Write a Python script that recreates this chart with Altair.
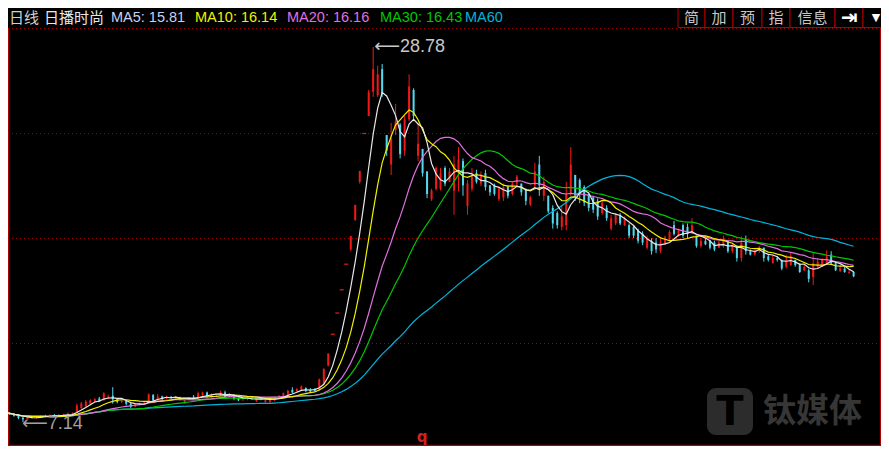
import altair as alt
import pandas as pd

# ---------------- data ----------------
opens = [7.72, 7.68, 7.60, 7.50, 7.38, 7.30, 7.42, 7.40, 7.45, 7.50,
         7.46, 7.55, 7.52, 7.50, 7.58, 7.62, 7.70, 7.95, 8.05, 8.20,
         8.30, 8.50, 8.40, 8.52, 8.66, 8.46, 8.30, 8.36, 8.20, 8.04,
         8.16, 8.20, 8.28, 8.70, 8.40, 8.62, 8.50, 8.60, 8.55, 8.55,
         8.25, 8.45, 8.60, 8.50, 8.70, 8.85, 8.60, 8.70, 8.70, 8.85,
         8.60, 8.70, 8.50, 8.44, 8.45, 8.55, 8.35, 8.50, 8.30, 8.30,
         8.40, 8.50, 8.60, 8.75, 9.00, 8.90, 9.00, 9.10, 9.00, 9.05,
         9.00, 9.35, 10.40, 12.21, 13.43, 14.77, 16.25, 17.10, 18.80, 21.00,
         23.79, 24.80, 26.20, 26.00, 27.50, 23.70, 22.00, 24.00, 24.30, 22.80,
         24.60, 26.30, 22.50, 22.90, 21.60, 20.00, 20.60, 20.60, 21.80, 21.00,
         20.50, 21.50, 22.20, 19.60, 20.60, 21.50, 20.90, 21.50, 20.80, 20.80,
         20.00, 20.10, 20.70, 20.30, 20.90, 20.90, 20.60, 19.70, 20.80, 22.00,
         20.20, 20.20, 19.50, 19.20, 18.40, 18.50, 20.30, 21.40, 21.10, 20.70,
         20.30, 20.10, 19.90, 19.20, 19.50, 18.30, 18.60, 19.10, 18.50, 18.50,
         18.40, 18.20, 18.00, 17.20, 17.60, 17.50, 17.00, 17.40, 17.70, 18.50,
         17.90, 18.50, 18.40, 18.10, 17.90, 17.30, 17.60, 17.60, 17.50, 17.20,
         17.30, 17.60, 17.00, 17.30, 16.60, 17.70, 17.00, 16.80, 17.00, 17.20,
         16.70, 16.30, 16.60, 16.50, 16.10, 16.20, 16.50, 16.20, 15.90, 15.90,
         15.50, 16.10, 16.20, 16.30, 16.80, 16.30, 15.85, 16.00, 15.75, 15.80]
highs = [7.80, 7.72, 7.66, 7.58, 7.45, 7.46, 7.50, 7.48, 7.55, 7.56,
         7.58, 7.60, 7.58, 7.62, 7.70, 7.70, 8.20, 8.30, 8.42, 8.46,
         8.52, 8.60, 8.86, 8.72, 9.15, 8.52, 8.42, 8.40, 8.26, 8.20,
         8.26, 8.30, 8.80, 8.76, 8.76, 8.66, 8.66, 8.65, 8.65, 8.60,
         8.45, 8.55, 8.70, 8.90, 8.90, 8.90, 8.80, 8.80, 8.95, 8.95,
         8.80, 8.75, 8.55, 8.50, 8.60, 8.60, 8.50, 8.55, 8.45, 8.50,
         8.60, 8.70, 8.85, 9.00, 9.15, 9.10, 9.25, 9.15, 9.10, 9.10,
         9.65, 10.25, 11.10, 12.21, 13.43, 14.77, 16.25, 17.88, 19.67, 21.63,
         23.79, 26.30, 28.78, 27.70, 27.80, 23.70, 24.40, 25.50, 24.40, 24.80,
         27.20, 26.40, 24.40, 22.90, 21.60, 20.60, 21.90, 21.80, 21.90, 21.80,
         22.50, 23.00, 22.35, 21.10, 21.80, 21.70, 21.60, 21.70, 20.80, 20.90,
         20.75, 20.90, 20.80, 21.00, 21.40, 20.90, 20.60, 20.20, 22.10, 22.50,
         21.30, 20.20, 19.65, 19.30, 19.65, 21.00, 23.00, 21.40, 21.20, 20.80,
         20.35, 20.20, 20.05, 19.90, 19.65, 19.10, 19.20, 19.20, 19.00, 18.60,
         18.50, 18.30, 18.15, 17.90, 17.75, 17.75, 17.75, 17.90, 18.20, 18.75,
         18.30, 18.60, 18.60, 18.90, 17.90, 17.75, 17.75, 17.65, 17.60, 17.60,
         17.90, 17.65, 17.40, 17.35, 17.85, 17.90, 17.10, 17.10, 17.30, 17.20,
         16.80, 16.80, 16.70, 16.50, 16.80, 16.90, 16.50, 16.30, 16.20, 16.00,
         16.90, 16.60, 16.60, 17.05, 17.00, 16.40, 16.20, 16.10, 15.95, 15.85]
lows = [7.62, 7.55, 7.45, 7.30, 7.14, 7.25, 7.36, 7.33, 7.40, 7.42,
        7.44, 7.48, 7.46, 7.48, 7.55, 7.56, 7.68, 7.90, 8.00, 8.15,
        8.26, 8.30, 8.38, 8.46, 8.20, 8.22, 8.24, 8.10, 7.96, 8.00,
        8.10, 8.14, 8.25, 8.30, 8.35, 8.40, 8.46, 8.50, 8.50, 8.40,
        8.20, 8.40, 8.45, 8.50, 8.60, 8.55, 8.55, 8.65, 8.65, 8.55,
        8.55, 8.40, 8.35, 8.35, 8.40, 8.45, 8.30, 8.40, 8.25, 8.25,
        8.35, 8.45, 8.55, 8.70, 8.80, 8.85, 8.95, 8.85, 8.85, 8.90,
        8.95, 9.30, 10.35, 12.21, 13.43, 14.77, 16.25, 17.00, 18.75, 20.90,
        23.79, 24.80, 25.90, 25.90, 25.90, 22.50, 21.40, 23.70, 22.35, 22.50,
        24.50, 24.50, 22.20, 21.30, 20.05, 19.90, 20.50, 20.50, 20.75, 21.00,
        19.10, 20.45, 20.20, 19.10, 20.45, 20.90, 20.75, 20.50, 20.20, 20.20,
        19.90, 19.90, 20.05, 20.20, 20.75, 20.20, 19.65, 19.60, 20.60, 20.20,
        19.90, 19.20, 18.30, 18.30, 18.20, 18.20, 20.20, 19.90, 19.77, 19.60,
        19.30, 19.20, 18.80, 19.10, 18.75, 18.20, 18.50, 18.50, 18.45, 17.75,
        17.75, 17.45, 17.35, 17.10, 16.80, 16.90, 16.90, 17.35, 17.60, 17.90,
        17.85, 17.75, 17.75, 18.05, 17.20, 17.20, 17.35, 17.10, 17.00, 17.20,
        17.20, 16.90, 16.90, 16.40, 16.40, 16.80, 16.75, 16.75, 16.90, 16.40,
        16.40, 16.30, 16.40, 15.90, 16.00, 16.15, 16.10, 15.75, 15.85, 15.20,
        15.05, 16.00, 16.10, 16.20, 16.20, 15.85, 15.80, 15.75, 15.70, 15.50]
closes = [7.68, 7.60, 7.50, 7.38, 7.30, 7.42, 7.40, 7.45, 7.50, 7.46,
          7.55, 7.52, 7.50, 7.58, 7.62, 7.65, 8.10, 8.22, 8.32, 8.40,
          8.46, 8.36, 8.80, 8.62, 8.45, 8.30, 8.36, 8.20, 8.02, 8.16,
          8.20, 8.26, 8.74, 8.40, 8.62, 8.50, 8.60, 8.55, 8.60, 8.45,
          8.40, 8.50, 8.50, 8.80, 8.85, 8.65, 8.75, 8.72, 8.85, 8.60,
          8.75, 8.50, 8.40, 8.45, 8.55, 8.50, 8.45, 8.45, 8.40, 8.45,
          8.55, 8.65, 8.80, 8.95, 8.85, 9.05, 9.20, 8.95, 8.90, 8.95,
          9.60, 10.20, 11.10, 12.21, 13.43, 14.77, 16.25, 17.88, 19.67, 21.63,
          23.79, 26.17, 27.50, 27.20, 26.10, 22.80, 23.50, 24.50, 22.60, 24.60,
          26.50, 24.80, 23.20, 21.50, 20.30, 20.50, 21.80, 21.50, 20.90, 21.60,
          22.00, 22.30, 20.80, 20.90, 21.30, 21.00, 21.40, 20.70, 20.40, 20.30,
          20.60, 20.70, 20.20, 20.90, 21.30, 20.40, 19.90, 20.10, 21.60, 20.80,
          21.00, 19.30, 18.60, 18.50, 19.00, 20.30, 22.00, 20.20, 20.30, 19.80,
          19.50, 19.40, 19.00, 19.80, 18.90, 18.90, 19.10, 18.60, 18.90, 17.90,
          17.90, 17.60, 17.50, 17.70, 17.00, 17.10, 17.50, 17.80, 18.10, 18.00,
          18.20, 17.90, 18.00, 18.50, 17.30, 17.60, 17.40, 17.20, 17.10, 17.50,
          17.70, 17.00, 17.30, 16.60, 17.50, 17.00, 16.80, 17.00, 17.20, 16.60,
          16.50, 16.60, 16.50, 16.00, 16.50, 16.70, 16.20, 15.80, 16.10, 15.40,
          16.30, 16.40, 16.50, 16.70, 16.30, 15.90, 16.00, 15.80, 15.80, 15.55]

stock_name = "日播时尚"
period_label = "日线"
ma_labels = ["MA5: 15.81", "MA10: 16.14", "MA20: 16.16", "MA30: 16.43", "MA60"]
ma_windows = [5, 10, 20, 30, 60]
buttons = ["简", "加", "预", "指", "信息", "⇥", "▼"]
watermark = "钛媒体"

# ---------------- styling ----------------
W, H = 873, 438
RED = "#f01818"
CYAN = "#54d8ee"
MA_COLORS = ["#e8e8e8", "#f0f000", "#e070e0", "#00c800", "#00b4dc"]
HEADER_COLORS = ["#c8d0f0", "#f0f000", "#e070e0", "#00c800", "#00b4dc"]
GRID = "#a00000"
BORDER = "#b00000"

df = pd.DataFrame({
    "i": list(range(len(closes))),
    "open": opens, "high": highs, "low": lows, "close": closes,
})
df["dir"] = ["up" if c >= o else "down" for o, c in zip(opens, closes)]

xs = alt.Scale(domain=[0.668, 195.1], nice=False, zero=False)
ys = alt.Scale(domain=[5.76, 31.03], nice=False, zero=False)
X = alt.X("i:Q", scale=xs, axis=None)
col = alt.Color("dir:N", scale=alt.Scale(domain=["up", "down"], range=[RED, CYAN]), legend=None)

base = alt.Chart(df)

wicks = base.mark_rule(strokeWidth=1, clip=True).encode(
    x=X, y=alt.Y("low:Q", scale=ys, axis=None), y2="high:Q", color=col)
bodies = base.mark_rule(strokeWidth=2, clip=True).encode(
    x=X, y=alt.Y("open:Q", scale=ys, axis=None), y2="close:Q", color=col)
dashes = base.transform_filter("datum.open == datum.close").transform_calculate(
    xa="datum.i - 0.45", xb="datum.i + 0.45"
).mark_rule(strokeWidth=1.2, clip=True).encode(
    x=alt.X("xa:Q", scale=xs, axis=None), x2="xb:Q",
    y=alt.Y("close:Q", scale=ys, axis=None), color=col)

ma_layers = []
for n, c in reversed(list(zip(ma_windows, MA_COLORS))):
    ma_layers.append(
        base.transform_window(ma="mean(close)", frame=[-(n - 1), 0], sort=[alt.SortField("i")])
        .mark_line(color=c, strokeWidth=1.2, clip=True)
        .encode(x=X, y=alt.Y("ma:Q", scale=ys, axis=None))
    )

# max / min markers from the data (arrow + value as one text)
imax = int(df["high"].idxmax())
imin = int(df["low"].idxmin())
hi = df.loc[[imax]]
lo = df.loc[[imin]]
hi_label = alt.Chart(hi).transform_calculate(
    lab="'⟵' + format(datum.high, '.2f')"
).mark_text(align="left", baseline="middle", dx=1, font="Liberation Sans, DejaVu Sans",
            fontSize=18, color="#c8c8c8").encode(
    x=X, y=alt.Y("high:Q", scale=ys, axis=None), text="lab:N")
lo_label = alt.Chart(lo).transform_calculate(
    lab="'⟵' + format(datum.low, '.2f')"
).mark_text(align="left", baseline="middle", dx=-1, dy=2, font="Liberation Sans, DejaVu Sans",
            fontSize=18, color="#a0a0a0").encode(
    x=X, y=alt.Y("low:Q", scale=ys, axis=None), text="lab:N")

one = pd.DataFrame({"k": [0]})


def txt(s, x, y, color, size, font="Liberation Sans", align="left", weight="normal"):
    return alt.Chart(one).mark_text(text=s, color=color, fontSize=size, font=font, align=align,
                                    baseline="middle", fontWeight=weight).encode(
        x=alt.value(x), y=alt.value(y))


def rect(x0, x1, y0, y1, fill, stroke=None, radius=0):
    kw = dict(fill=fill, cornerRadius=radius)
    if stroke:
        kw.update(stroke=stroke, strokeWidth=1)
    return alt.Chart(one).mark_rect(**kw).encode(
        x=alt.value(x0), x2=alt.value(x1), y=alt.value(y0), y2=alt.value(y1))


def hrule(y, x0, x1, color, dash=None, width=1):
    kw = dict(color=color, strokeWidth=width)
    if dash:
        kw["strokeDash"] = dash
    return alt.Chart(one).mark_rule(**kw).encode(x=alt.value(x0), x2=alt.value(x1), y=alt.value(y))


def vrule(x, y0, y1, color, width=1):
    return alt.Chart(one).mark_rule(color=color, strokeWidth=width).encode(
        x=alt.value(x), y=alt.value(y0), y2=alt.value(y1))


deco = []
# grid lines and frame
for gy in [20.5, 125.5, 230.5, 335.5]:
    deco.append(hrule(gy, 0, W, GRID, dash=[1, 3]))
deco.append(vrule(0.5, 20, 438, BORDER))
deco.append(vrule(872.5, 20, 438, BORDER))
deco.append(hrule(437.5, 0, W, BORDER, width=1.5))

# watermark
deco.append(rect(699, 745, 380, 427, "#2c2c2c", radius=9))
deco.append(txt("T", 722, 405, "#000000", 40, font="DejaVu Sans", align="center", weight="bold"))
deco.append(txt(watermark, 755, 404, "#363636", 33, font="Noto Sans CJK SC", weight="bold"))

# header
deco.append(txt(period_label, 1, 10, "#d0d0d0", 15, font="Noto Sans CJK SC"))
deco.append(txt(stock_name, 36, 10, "#e8e8e8", 15, font="Noto Sans CJK SC"))
for s, x, c in zip(ma_labels, [103, 187, 279, 372, 457], HEADER_COLORS):
    deco.append(txt(s, x, 10, c, 14.5))

# buttons
bx = [670, 697, 725, 754, 782, 827, 855, 881]
for k, b in enumerate(buttons):
    deco.append(rect(bx[k], bx[k + 1], -2, 19.5, "#000000", stroke=BORDER))
    size = 11 if b == "▼" else (20 if b == "⇥" else 15)
    font = "DejaVu Sans" if b in ("⇥", "▼") else "Noto Sans CJK SC"
    clr = "#ffffff" if b in ("⇥", "▼") else "#c8c8c8"
    deco.append(txt(b, (bx[k] + bx[k + 1]) / 2, 10, clr, size, font=font, align="center",
                    weight="bold" if b == "⇥" else "normal"))

deco.append(txt("q", 414, 429, "#d42020", 15, font="DejaVu Sans", align="center", weight="bold"))

chart = alt.layer(
    *deco[:5],
    deco[5], deco[6], deco[7],
    wicks, bodies, dashes, *ma_layers,
    hi_label, lo_label,
    *deco[8:],
).properties(
    width=W, height=H, padding=0, background="#000000",
    autosize=alt.AutoSizeParams(type="none"),
).configure_view(stroke=None)

chart.save("out.html", embed_options={"renderer": "svg", "actions": False})
